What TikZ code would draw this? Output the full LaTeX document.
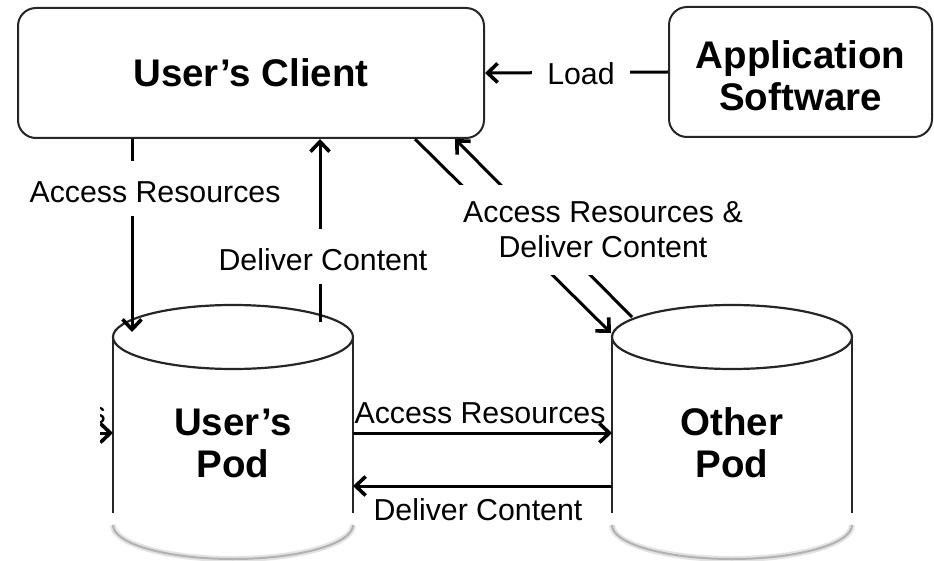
\documentclass[tikz,border=0pt]{standalone}
\usepackage{fontspec}
\setmainfont{Liberation Sans}
\usetikzlibrary{arrows.meta}

\tikzset{
  box/.style={draw=black!85, line width=2pt, rounded corners=18pt},
  title/.style={font=\fontsize{38.5}{42}\selectfont\bfseries, align=center},
  lbl/.style={font=\fontsize{30.3}{35}\selectfont, fill=white, inner xsep=15pt,
    inner ysep=14pt, text height=27.5pt, text depth=0pt},
  dlbl/.style={font=\fontsize{30.3}{35}\selectfont, fill=white, align=center,
    inner xsep=10pt, inner ysep=17pt},
  txt/.style={font=\fontsize{30.3}{35}\selectfont, inner sep=0pt},
  arr/.style={line width=3pt, -{Straight Barb[length=10pt,width=19pt,line width=3.6pt]}},
  podline/.style={draw=black!85, line width=2.2pt},
  pod/.pic={
    % body sides and top rim
    \draw[podline] (-120,0) -- (-120,176) (120,0) -- (120,176);
    \draw[podline] (0,0) ellipse [x radius=120pt, y radius=32pt];
    % soft lower rim
    \draw[gray!22, line width=6pt] (-120,188)
      arc [start angle=180, end angle=360, x radius=120pt, y radius=34pt];
    \draw[gray!60, line width=2pt] (-120,188)
      arc [start angle=180, end angle=360, x radius=120pt, y radius=34pt];
    \node[title] (-label) at (0,106) {#1};
    \coordinate (-wA) at (-120,96);
    \coordinate (-wD) at (-120,149);
    \coordinate (-eA) at (120,96);
    \coordinate (-eD) at (120,149);
  }
}

\begin{document}
\begin{tikzpicture}[x=1pt, y=-1pt]
\useasboundingbox (0,0) rectangle (934,561);

% top row
\node[box, title, minimum width=466pt, minimum height=130pt] (client) at (251,73) {User’s Client};
\node[box, minimum width=263pt, minimum height=130pt] (app) at (800.5,72) {};
\node[title] (apptext) at (800.5,76) {Application\\Software};

% storage pods
\pic (upod) at (233,337) {pod={User’s\\Pod}};
\pic (opod) at (732,337) {pod={Other\\Pod}};

% attachment points on the pod rims
\coordinate (uin)  at (132,332);
\coordinate (uout) at (320,322);
\coordinate (opin) at (611,333);
\coordinate (opout) at (632,317);
\coordinate (cd1) at (415,0);
\coordinate (cd2) at (455,0);
\coordinate (offleft) at (40,433);

% connectors
\draw[arr] (app.west) -- (client.east);
\draw[arr] (client.south -| uin) -- (uin);
\draw[arr] (uout) -- (client.south -| uout);
\draw[arr] (client.south -| cd1) -- (opin);
\draw[arr] (opout) -- (client.south -| cd2);
\draw[arr] (upod-eA) -- (opod-wA);
\draw[arr] (opod-wD) -- (upod-eD);

% incoming request from the left edge
\begin{scope}
  \clip (100,380) rectangle (125,460);
  \draw[arr] (offleft) -- (upod-wA);
  \node[txt, anchor=base east] (extlbl) at (106,423.5) {s};
\end{scope}

% connector labels
\node[lbl, anchor=base] (load) at (581,84.5) {Load};
\node[lbl, anchor=base] (acc1) at (155,202.5) {Access Resources};
\node[lbl, anchor=base] (del1) at (323,270.5) {Deliver Content};
\node[dlbl] (accdel) at (603,230) {Access Resources \&\\Deliver Content};
\node[txt, anchor=base] (acc2) at (480,423.5) {Access Resources};
\node[txt, anchor=base] (del2) at (478,520.5) {Deliver Content};
\end{tikzpicture}
\end{document}
